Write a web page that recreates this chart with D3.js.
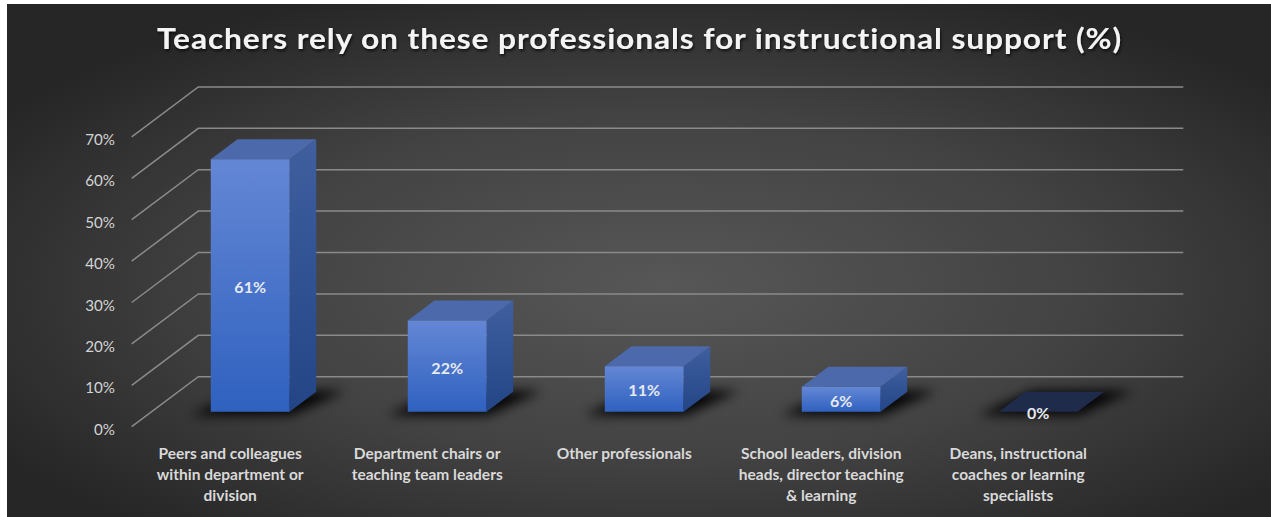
<!DOCTYPE html>
<html>
<head>
<meta charset="utf-8">
<script src="https://cdn.jsdelivr.net/npm/d3@7/dist/d3.min.js"></script>
<style>
  html, body { margin: 0; padding: 0; background: #ffffff; }
  svg { display: block; }
  text { font-family: Lato, "Open Sans", "DejaVu Sans", sans-serif; }
</style>
</head>
<body>
<svg id="chart" width="1271" height="517"></svg>
<script>
// Chart data
const title = "Teachers rely on these professionals for instructional support (%)";
const categories = [
  "Peers and colleagues within department or division",
  "Department chairs or teaching team leaders",
  "Other professionals",
  "School leaders, division heads, director teaching & learning",
  "Deans, instructional coaches or learning specialists"
];
const categoryLines = [
  ["Peers and colleagues", "within department or", "division"],
  ["Department chairs or", "teaching team leaders"],
  ["Other professionals"],
  ["School leaders, division", "heads, director teaching", "& learning"],
  ["Deans, instructional", "coaches or learning", "specialists"]
];
const values = [61, 22, 11, 6, 0];
const tickValues = [0, 10, 20, 30, 40, 50, 60, 70];

const W = 1271, H = 517;
const svg = d3.select("#chart");
const defs = svg.append("defs");

// Background panel with a soft radial light
const bg = defs.append("radialGradient").attr("id", "bgGrad")
  .attr("cx", "52%").attr("cy", "55%").attr("r", "62%");
bg.append("stop").attr("offset", "0%").attr("stop-color", "#575757");
bg.append("stop").attr("offset", "55%").attr("stop-color", "#424242");
bg.append("stop").attr("offset", "100%").attr("stop-color", "#262626");
svg.append("rect").attr("x", 7).attr("y", 4).attr("width", W - 7).attr("height", H - 4)
  .attr("fill", "url(#bgGrad)");

// Bar face gradients
const front = defs.append("linearGradient").attr("id", "frontGrad")
  .attr("x1", 0).attr("y1", 0).attr("x2", 0).attr("y2", 1);
front.append("stop").attr("offset", "0%").attr("stop-color", "#6487d5");
front.append("stop").attr("offset", "100%").attr("stop-color", "#2f61bf");
const side = defs.append("linearGradient").attr("id", "sideGrad")
  .attr("x1", 0).attr("y1", 0).attr("x2", 0).attr("y2", 1);
side.append("stop").attr("offset", "0%").attr("stop-color", "#3f5f9f");
side.append("stop").attr("offset", "100%").attr("stop-color", "#234586");

defs.append("filter").attr("id", "shadowBlur")
  .attr("x", "-50%").attr("y", "-100%").attr("width", "200%").attr("height", "300%")
  .append("feGaussianBlur").attr("stdDeviation", 6);

const titleShadow = defs.append("filter").attr("id", "titleShadow")
  .attr("x", "-5%").attr("y", "-30%").attr("width", "110%").attr("height", "160%");
titleShadow.append("feDropShadow").attr("dx", 1).attr("dy", 2).attr("stdDeviation", 1.5)
  .attr("flood-color", "#000").attr("flood-opacity", 0.7);

// Scales and oblique depth projection
const y = d3.scaleLinear().domain([0, 70]).range([426.7, 136.9]);
const x = d3.scaleBand().domain(categories).range([131.7, 1116.7]).padding(0);
const DX = 66.6, DY = 50;
const P = (xv, v, z) => [xv + z * DX, y(v) - z * DY];
const Z0 = 0.3, Z1 = 0.7;
const barW = x.bandwidth() * 0.4;

// Walls: gridlines on the back wall and the left side wall
const grid = svg.append("g").attr("stroke", "#8a8a8a").attr("stroke-width", 1.5).attr("fill", "none");
tickValues.forEach(t => {
  const a = P(x.range()[0], t, 0), b = P(x.range()[0], t, 1), c = P(x.range()[1], t, 1);
  grid.append("polyline").attr("points", [a, b, c].map(p => p.join(",")).join(" "));
});

// Tick labels on the front edge of the side wall
svg.append("g").selectAll("text").data(tickValues).join("text")
  .attr("transform", d => `translate(115,${y(d) + 2}) scale(0.95,1)`)
  .attr("text-anchor", "end").attr("dominant-baseline", "central")
  .attr("fill", "#d4d4d4").attr("font-size", 16)
  .text(d => d + "%");

const line = pts => "M" + pts.map(p => p.join(",")).join("L") + "Z";

const bars = categories.map((c, i) => {
  const xl = x(c) + (x.bandwidth() - barW) / 2;
  return { c, v: values[i], xl, xr: xl + barW };
});

// Floor shadows under each bar
svg.append("g").attr("filter", "url(#shadowBlur)").selectAll("path").data(bars).join("path")
  .attr("d", d => line([P(d.xl - 16, 0, Z0 - 0.07), P(d.xr + 6, 0, Z0 - 0.07),
                        P(d.xr + 28, 0, Z1 + 0.02), P(d.xl + 6, 0, Z1 + 0.02)]))
  .attr("fill", "#000").attr("opacity", 0.95);

// 3D bars: side, top and front faces
const g = svg.append("g");
bars.forEach(d => {
  if (d.v === 0) {
    g.append("path")
      .attr("d", line([P(d.xl, 0, Z0), P(d.xr, 0, Z0), P(d.xr, 0, Z1), P(d.xl, 0, Z1)]))
      .attr("fill", "#1e2b4b");
    return;
  }
  g.append("path")
    .attr("d", line([P(d.xr, 0, Z0), P(d.xr, d.v, Z0), P(d.xr, d.v, Z1), P(d.xr, 0, Z1)]))
    .attr("fill", "url(#sideGrad)");
  g.append("path")
    .attr("d", line([P(d.xl, d.v, Z0), P(d.xr, d.v, Z0), P(d.xr, d.v, Z1), P(d.xl, d.v, Z1)]))
    .attr("fill", "#4b69ab");
  g.append("path")
    .attr("d", line([P(d.xl, 0, Z0), P(d.xr, 0, Z0), P(d.xr, d.v, Z0), P(d.xl, d.v, Z0)]))
    .attr("fill", "url(#frontGrad)");
});

// Value labels centred on each front face
svg.append("g").selectAll("text").data(bars).join("text")
  .attr("transform", d => {
    const cx = (d.xl + d.xr) / 2 + Z0 * DX;
    const cy = (y(0) + y(d.v)) / 2 - Z0 * DY + 1;
    return `translate(${cx},${cy})`;
  })
  .attr("text-anchor", "middle").attr("dominant-baseline", "central")
  .attr("fill", "#e6e9f0").attr("font-size", 16).attr("font-weight", 700)
  .text(d => d.v + "%");

// Category labels under the floor
const cat = svg.append("g").selectAll("g").data(categories).join("g")
  .attr("transform", (c) => `translate(${x(c) + x.bandwidth() / 2},0)`);
cat.each(function(c, i) {
  categoryLines[i].forEach((ln, k) => {
    d3.select(this).append("text")
      .attr("transform", `translate(0,${452 + k * 21}) scale(0.97,1)`)
      .attr("text-anchor", "middle").attr("dominant-baseline", "central")
      .attr("fill", "#d9d9d9").attr("font-size", 16).attr("font-weight", 700)
      .text(ln);
  });
});

// Title
svg.append("text")
  .attr("x", 157).attr("y", 49)
  .attr("textLength", 965).attr("lengthAdjust", "spacingAndGlyphs")
  .attr("fill", "#f4f4f4").attr("font-size", 29).attr("font-weight", 700)
  .attr("letter-spacing", 0.8)
  .attr("filter", "url(#titleShadow)")
  .text(title);
</script>
</body>
</html>
